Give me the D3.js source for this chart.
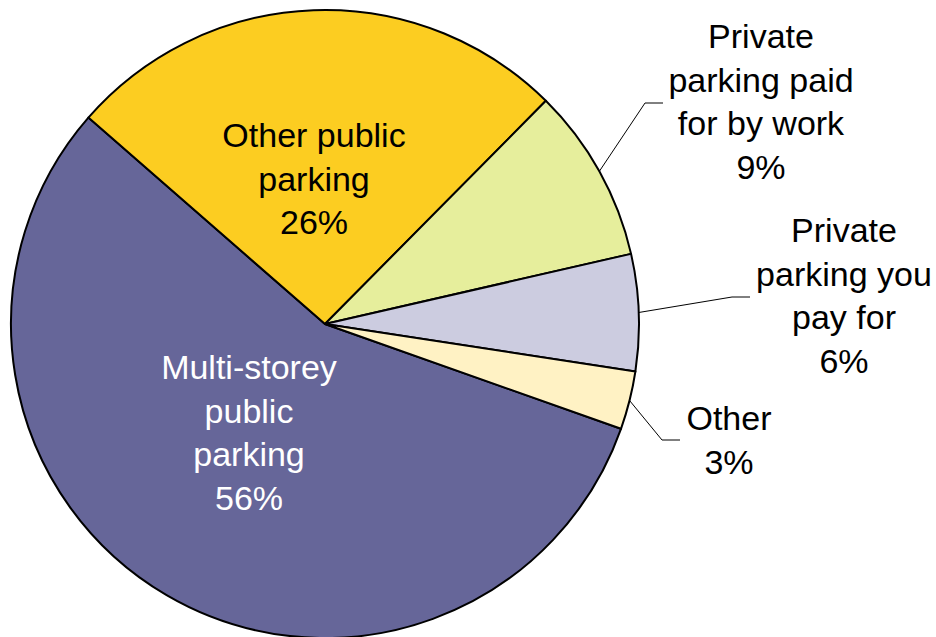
<!DOCTYPE html>
<html>
<head>
<meta charset="utf-8">
<script src="https://cdn.jsdelivr.net/npm/d3@7"></script>
<style>
  html, body { margin: 0; padding: 0; background: #ffffff; }
  svg { display: block; }
  text { font-family: "Liberation Sans", Arial, sans-serif; }
</style>
</head>
<body>
<svg id="chart" width="936" height="637"></svg>
<script>
// Share of parking by type (%)
const categories = [
  "Multi-storey public parking",
  "Other public parking",
  "Private parking paid for by work",
  "Private parking you pay for",
  "Other"
];
const values = [56, 26, 9, 6, 3];
const colors = ["#666699", "#FCCD21", "#E6EE9C", "#CCCCE0", "#FFF2C4"];

// Label text lines per slice (last line is the percentage)
const labelLines = [
  ["Multi-storey", "public", "parking"],
  ["Other public", "parking"],
  ["Private", "parking paid", "for by work"],
  ["Private", "parking you", "pay for"],
  ["Other"]
];

// Layout
const width = 936, height = 637;
const cx = 325, cy = 324, radius = 314;
const fontSize = 34, lineGap = 43.5;

// Label placement: centre x, first baseline y, and leader elbow/end for outside labels
const labelLayout = [
  { x: 249, y: 379, fill: "#ffffff" },
  { x: 314, y: 147, fill: "#000000" },
  { x: 761, y: 48,  fill: "#000000", elbow: [645, 103], end: [663, 103] },
  { x: 844, y: 242, fill: "#000000", elbow: [732, 297], end: [750, 297] },
  { x: 729, y: 430, fill: "#000000", elbow: [662, 440], end: [680, 440] }
];

const svg = d3.select("#chart");
const g = svg.append("g").attr("transform", `translate(${cx},${cy})`);

const deg = Math.PI / 180;
const pie = d3.pie().sort(null).value(d => d.value).startAngle(109.5 * deg).endAngle(469.5 * deg);
const data = categories.map((c, i) => ({ name: c, value: values[i], i }));
const arcs = pie(data);

const arc = d3.arc().innerRadius(0).outerRadius(radius);

g.selectAll("path.slice")
  .data(arcs)
  .join("path")
  .attr("class", "slice")
  .attr("d", arc)
  .attr("fill", d => colors[d.data.i])
  .attr("stroke", "#000000")
  .attr("stroke-width", 2)
  .attr("stroke-linejoin", "round");

// Leader lines for labels placed outside the pie
const edge = d3.arc().innerRadius(radius).outerRadius(radius);
arcs.forEach(d => {
  const L = labelLayout[d.data.i];
  if (!L.elbow) return;
  const [ex, ey] = edge.centroid(d);
  svg.append("polyline")
    .attr("points", [[ex + cx, ey + cy], L.elbow, L.end].map(p => p.join(",")).join(" "))
    .attr("fill", "none")
    .attr("stroke", "#000000")
    .attr("stroke-width", 1);
});

// Labels: category name lines followed by the percentage
arcs.forEach(d => {
  const L = labelLayout[d.data.i];
  const lines = labelLines[d.data.i].concat([d.data.value + "%"]);
  const t = svg.append("text")
    .attr("text-anchor", "middle")
    .attr("font-size", fontSize)
    .attr("fill", L.fill);
  lines.forEach((s, k) => {
    t.append("tspan").attr("x", L.x).attr("y", L.y + k * lineGap).text(s);
  });
});
</script>
</body>
</html>
